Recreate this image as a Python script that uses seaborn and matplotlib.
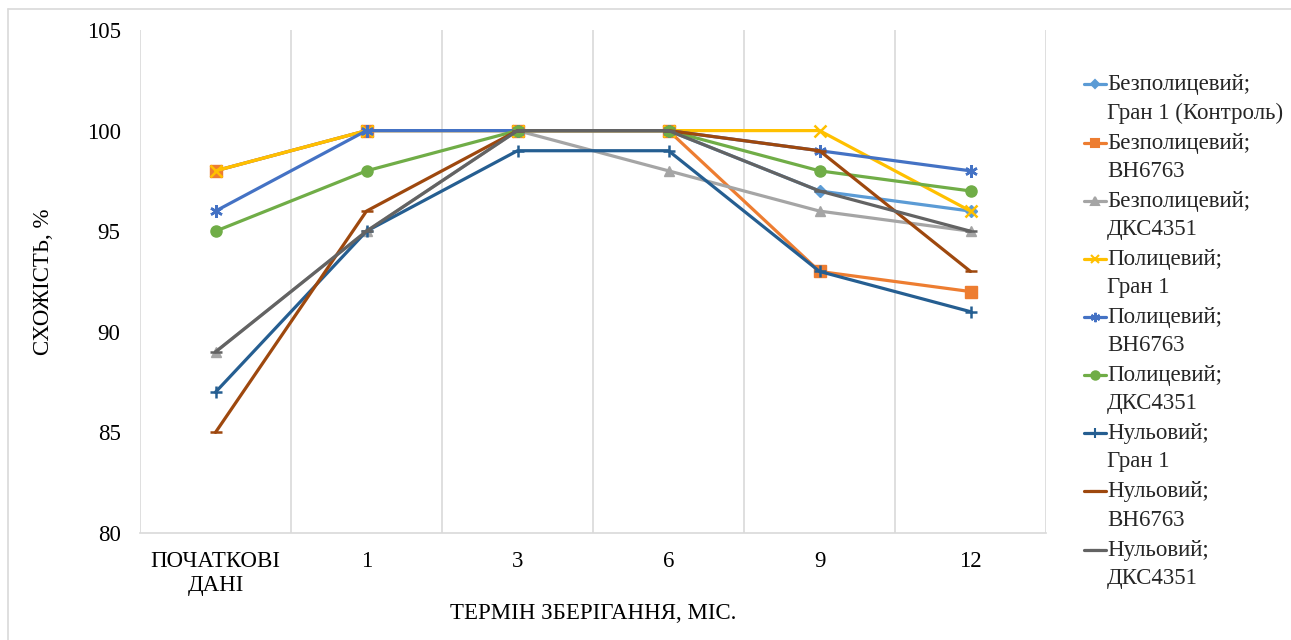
import matplotlib
matplotlib.use("Agg")
import matplotlib.pyplot as plt
from matplotlib.lines import Line2D
from matplotlib.legend_handler import HandlerLine2D
from matplotlib.transforms import Affine2D
import seaborn as sns
import pandas as pd

# Storage period categories
periods = ["ПОЧАТКОВІ\nДАНІ", "1", "3", "6", "9", "12"]

# Germination (%) per tillage / variety combination
bezpol_gran1 = [98, 100, 100, 100, 97, 96]
bezpol_vn6763 = [98, 100, 100, 100, 93, 92]
bezpol_dks4351 = [89, 95, 100, 98, 96, 95]
pol_gran1 = [98, 100, 100, 100, 100, 96]
pol_vn6763 = [96, 100, 100, 100, 99, 98]
pol_dks4351 = [95, 98, 100, 100, 98, 97]
nul_gran1 = [87, 95, 99, 99, 93, 91]
nul_vn6763 = [85, 96, 100, 100, 99, 93]
nul_dks4351 = [89, 95, 100, 100, 97, 95]

series_names = [
    "Безполицевий;\nГран 1 (Контроль)",
    "Безполицевий;\nВН6763",
    "Безполицевий;\nДКС4351",
    "Полицевий;\nГран 1",
    "Полицевий;\nВН6763",
    "Полицевий;\nДКС4351",
    "Нульовий;\nГран 1",
    "Нульовий;\nВН6763",
    "Нульовий;\nДКС4351",
]
series_values = [bezpol_gran1, bezpol_vn6763, bezpol_dks4351,
                 pol_gran1, pol_vn6763, pol_dks4351,
                 nul_gran1, nul_vn6763, nul_dks4351]

colors = ["#5B9BD5", "#ED7D31", "#A5A5A5", "#FFC000", "#4472C4",
          "#70AD47", "#255E91", "#9E480E", "#636363"]
markers = ["D", "s", "^", "x", (6, 2, 0), "o", "+", "_", "_"]
msizes = [6, 8, 7, 8, 9, 8, 9, 9, 9]

FS = 16.5


class FirstLineHandler(HandlerLine2D):
    """Line handler raised to sit beside the first line of a two-line label."""

    def __init__(self, shift, **kw):
        super().__init__(**kw)
        self.shift = shift

    def create_artists(self, legend, orig_handle, xdescent, ydescent,
                       width, height, fontsize, trans):
        trans = Affine2D().translate(0, self.shift) + trans
        return super().create_artists(legend, orig_handle, xdescent, ydescent,
                                      width, height, fontsize, trans)


sns.set_theme(style="white")
plt.rcParams["font.family"] = ["Liberation Serif", "DejaVu Serif"]

fig = plt.figure(figsize=(12.91, 6.40), dpi=100)
ax = fig.add_axes([140 / 1291, 1 - 533 / 640, (1046 - 140) / 1291, (533 - 30) / 640])

xpos = list(range(len(periods)))
handles = []
for name, vals, c, m, ms in zip(series_names, series_values, colors, markers, msizes):
    df = pd.DataFrame({"x": xpos, "y": vals})
    sns.lineplot(data=df, x="x", y="y", ax=ax, color=c, linewidth=2.3,
                 marker=m, markersize=ms, markeredgecolor=c,
                 markeredgewidth=1.8 if m in ("x", "+", "_") or isinstance(m, tuple) else 1.0,
                 legend=False)
    handles.append(Line2D([], [], color=c, linewidth=2.3, marker=m,
                          markersize=ms * 0.75, markeredgecolor=c,
                          markeredgewidth=1.5))

ax.set_xlim(-0.5, len(periods) - 0.5)
ax.set_ylim(80, 105)
ax.set_yticks([80, 85, 90, 95, 100, 105])
ax.set_xticks(xpos)
ax.set_xticklabels(periods, fontsize=FS, linespacing=1.2)
ax.tick_params(axis="y", labelsize=FS, pad=14, length=0)
ax.tick_params(axis="x", pad=13, length=0)
for t in ax.get_yticklabels() + ax.get_xticklabels():
    t.set_color("#000000")

# Category boundary gridlines
for b in [i - 0.5 for i in range(len(periods) + 1)]:
    ax.axvline(b, color="#D9D9D9", linewidth=1.2, zorder=0)

for s in ["top", "right", "left"]:
    ax.spines[s].set_visible(False)
ax.spines["bottom"].set_color("#D9D9D9")
ax.spines["bottom"].set_linewidth(1.2)

ax.set_xlabel("ТЕРМІН ЗБЕРІГАННЯ, МІС.", fontsize=FS, labelpad=5, color="#000000")
ax.set_ylabel("СХОЖІСТЬ, %", fontsize=FS, labelpad=23.5, color="#000000")

leg = fig.legend(handles, series_names, loc="upper left",
                 bbox_to_anchor=(1075 / 1291, 1 - 65 / 640),
                 frameon=False, fontsize=FS, handlelength=0.95,
                 handletextpad=0.05, labelspacing=0.39, borderaxespad=0,
                 handler_map={Line2D: FirstLineHandler(shift=10.5)})
for t in leg.get_texts():
    t.set_linespacing(1.45)

# Outer chart frame (left and top edges)
fig.add_artist(Line2D([8 / 1291, 8 / 1291], [0, 1 - 9 / 640],
                      transform=fig.transFigure, color="#D9D9D9", linewidth=1.2))
fig.add_artist(Line2D([8 / 1291, 1], [1 - 9 / 640, 1 - 9 / 640],
                      transform=fig.transFigure, color="#D9D9D9", linewidth=1.2))

fig.savefig("out.png", dpi=100)
